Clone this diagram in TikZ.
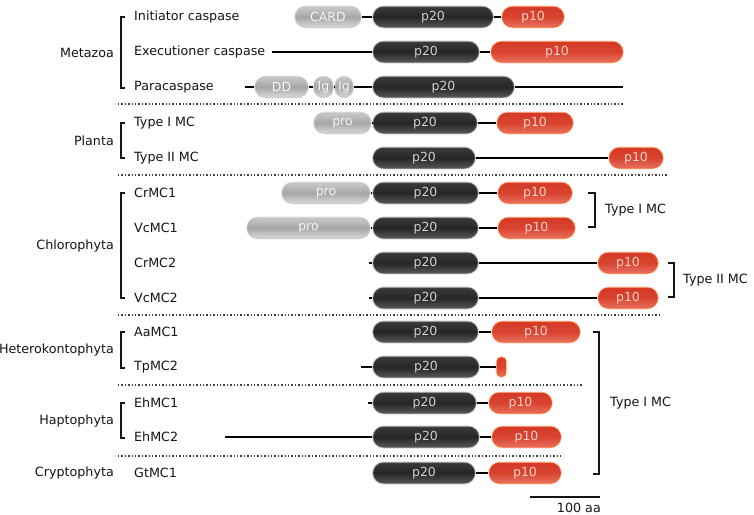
\documentclass[tikz,border=0pt]{standalone}
\usepackage{fontspec}
\setmainfont{DejaVu Sans}
\definecolor{ptop}{HTML}{3A3A3A}
\definecolor{pmid}{HTML}{262626}
\definecolor{pbot}{HTML}{575757}
\definecolor{ptxt}{HTML}{CFCFCF}
\definecolor{rtop}{HTML}{D33A27}
\definecolor{rmid}{HTML}{D9442F}
\definecolor{rbot}{HTML}{E87262}
\definecolor{rtxt}{HTML}{F3D2CB}
\definecolor{gtop}{HTML}{CACACA}
\definecolor{gmid}{HTML}{A6A6A6}
\definecolor{gbot}{HTML}{DADADA}
\definecolor{labtxt}{HTML}{151515}
\tikzset{
  pill/.style={rounded corners=10.5pt, minimum height=21pt, inner sep=0pt, line width=1.6pt,
    font=\fontsize{12.5}{14}\selectfont},
  dp20/.style={pill, top color=ptop, bottom color=pbot, middle color=pmid, draw=black!60, draw opacity=0.4, text=ptxt},
  dp10/.style={pill, top color=rtop, bottom color=rbot, middle color=rmid, draw=orange!70!red, draw opacity=0.35, text=rtxt},
  dgray/.style={pill, top color=gtop, bottom color=gbot, middle color=gmid, draw=gray!55, draw opacity=0.45, text=white!92!gray},
  conn/.style={line width=2.8pt, black},
  sep/.style={line width=1.4pt, black!75, dash pattern=on 1.4pt off 2pt},
  brk/.style={line width=1.2pt, labtxt},
  lab/.style={font=\fontsize{12.7}{14}\selectfont, text=labtxt, inner sep=0pt},
}
\newcommand\dom[6]{\node[#5, minimum width={(#3-#2)*1pt}] (#1) at ({(#2+#3)/2},#4) {#6};}
\begin{document}
\begin{tikzpicture}[x=1pt,y=-1pt]
\useasboundingbox (0,0) rectangle (754,514);
\fill[white] (0,0) rectangle (754,514);
% ---------- Row 1: Initiator caspase
\dom{acard}{295}{361}{17}{dgray}{CARD}
\dom{ap20}{373}{493}{17}{dp20}{p20}
\dom{ap10}{502}{564}{17}{dp10}{p10}
\draw[conn] (acard.east) -- (ap20.west) (ap20.east) -- (ap10.west);
% ---------- Row 2: Executioner caspase
\coordinate (bs) at (272,52);
\dom{bp20}{373}{479}{52}{dp20}{p20}
\dom{bp10}{491}{623}{52}{dp10}{p10}
\draw[conn] (bs) -- (bp20.west) (bp20.east) -- (bp10.west);
% ---------- Row 3: Paracaspase
\coordinate (cs) at (245,87);
\coordinate (ce) at (623,87);
\dom{cdd}{255}{308}{87}{dgray}{DD}
\dom{cig1}{314}{333}{87}{dgray, rounded corners=9pt}{Ig}
\dom{cig2}{335}{353}{87}{dgray, rounded corners=9pt}{Ig}
\dom{cp20}{373}{514}{87}{dp20}{p20}
\draw[conn] (cs) -- (cdd.west) (cdd.east) -- (cig1.west) (cig1.east) -- (cig2.west)
  (cig2.east) -- (cp20.west) (cp20.east) -- (ce);
% ---------- Row 4: Type I MC (plant)
\dom{dpro}{314}{371}{123}{dgray}{pro}
\dom{dp20n}{373}{477}{123}{dp20}{p20}
\dom{dp10n}{497}{573}{123}{dp10}{p10}
\draw[conn] (dpro.east) -- (dp20n.west) (dp20n.east) -- (dp10n.west);
% ---------- Row 5: Type II MC (plant)
\dom{ep20}{373}{475}{158}{dp20}{p20}
\dom{ep10}{609}{663}{158}{dp10}{p10}
\draw[conn] (ep20.east) -- (ep10.west);
% ---------- CrMC1
\dom{fpro}{282}{370}{193}{dgray}{pro}
\dom{fp20}{373}{478}{193}{dp20}{p20}
\dom{fp10}{498}{572}{193}{dp10}{p10}
\draw[conn] (fpro.east) -- (fp20.west) (fp20.east) -- (fp10.west);
% ---------- VcMC1
\dom{gpro}{247}{370}{228}{dgray}{pro}
\dom{gp20}{373}{478}{228}{dp20}{p20}
\dom{gp10}{498}{575}{228}{dp10}{p10}
\draw[conn] (gpro.east) -- (gp20.west) (gp20.east) -- (gp10.west);
% ---------- CrMC2
\coordinate (hs) at (369,263);
\dom{hp20}{373}{478}{263}{dp20}{p20}
\dom{hp10}{598}{658}{263}{dp10}{p10}
\draw[conn] (hs) -- (hp20.west) (hp20.east) -- (hp10.west);
% ---------- VcMC2
\coordinate (is) at (369,298);
\dom{ip20}{373}{478}{298}{dp20}{p20}
\dom{ip10}{598}{658}{298}{dp10}{p10}
\draw[conn] (is) -- (ip20.west) (ip20.east) -- (ip10.west);
% ---------- AaMC1
\dom{jp20}{373}{478}{332}{dp20}{p20}
\dom{jp10}{492}{580}{332}{dp10}{p10}
\draw[conn] (jp20.east) -- (jp10.west);
% ---------- TpMC2
\coordinate (ks) at (361,367);
\dom{kp20}{373}{479}{367}{dp20}{p20}
\node[dp10, rounded corners=5pt, minimum width=10pt, minimum height=20pt] (kp10) at (501.5,367) {};
\draw[conn] (ks) -- (kp20.west) (kp20.east) -- (kp10.west);
% ---------- EhMC1
\coordinate (ls) at (368,403);
\dom{lp20}{373}{476}{403}{dp20}{p20}
\dom{lp10}{489}{552}{403}{dp10}{p10}
\draw[conn] (ls) -- (lp20.west) (lp20.east) -- (lp10.west);
% ---------- EhMC2
\coordinate (ms) at (225,437);
\dom{mp20}{373}{479}{437}{dp20}{p20}
\dom{mp10}{492}{561}{437}{dp10}{p10}
\draw[conn] (ms) -- (mp20.west) (mp20.east) -- (mp10.west);
% ---------- GtMC1
\dom{np20}{373}{475}{473}{dp20}{p20}
\dom{np10}{489}{561}{473}{dp10}{p10}
\draw[conn] (np20.east) -- (np10.west);
% ---------- separators
\draw[sep] (118,104) -- (623,104);
\draw[sep] (118,175) -- (667,175);
\draw[sep] (118,315) -- (660,315);
\draw[sep] (118,385) -- (582,385);
\draw[sep] (118,456) -- (561,456);
% ---------- protein names
\foreach \t/\y/\n in {Initiator caspase/17/na, Executioner caspase/52/nb, Paracaspase/87/nc,
  Type I MC/123/nd, Type II MC/158/ne, CrMC1/193/nf, VcMC1/228/ng, CrMC2/263/nh, VcMC2/298/ni,
  AaMC1/332/nj, TpMC2/367/nk, EhMC1/403/nl, EhMC2/437/nm, GtMC1/473/nn}
  \node[lab, anchor=west] (\n) at (134,\y) {\t};
% ---------- group labels and brackets
\foreach \t/\a/\b/\n in {Metazoa/17/88/gmeta, Planta/123/158/gplan, Chlorophyta/193/298/gchlo,
  Heterokontophyta/332/368/ghete, Haptophyta/403/438/ghapt}{
  \draw[brk] (125,\a) -- (121,\a) -- (121,\b) -- (125,\b);
  \node[lab, anchor=east] (\n) at (114,{(\a+\b)/2}) {\t};
}
\node[lab, anchor=east] (gcryp) at (114,473) {Cryptophyta};
% ---------- right brackets
\draw[brk] (588,193) -- (595,193) -- (595,227) -- (588,227);
\node[lab, anchor=west] (t1) at (605,210) {Type I MC};
\draw[brk] (668,263) -- (674,263) -- (674,297) -- (668,297);
\node[lab, anchor=west] (t2) at (683,280) {Type II MC};
\draw[brk] (593,332) -- (599,332) -- (599,474) -- (593,474);
\node[lab, anchor=west] (t3) at (610,403) {Type I MC};
% ---------- scale bar
\draw[line width=2pt, labtxt] (530,497) -- (600,497);
\node[lab, anchor=east] (scl) at (601,507.5) {100 aa};
\end{tikzpicture}
\end{document}
